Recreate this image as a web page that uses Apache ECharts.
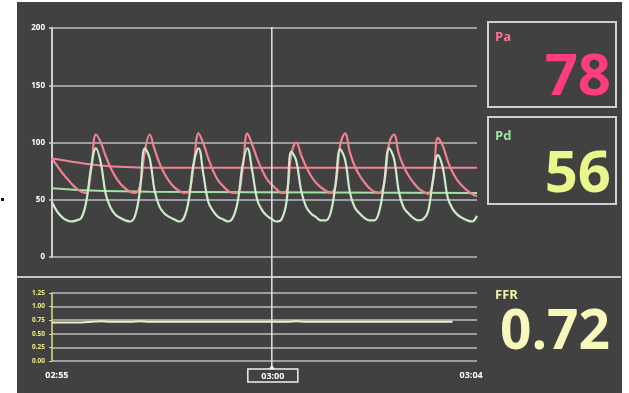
<!DOCTYPE html>
<html>
<head>
<meta charset="utf-8">
<script src="https://cdn.jsdelivr.net/npm/echarts@6/dist/echarts.min.js"></script>
<style>
  html, body { margin: 0; padding: 0; background: #ffffff; }
  #panel { position: absolute; left: 17px; top: 2px; width: 605px; height: 391px; background: #414141; }
  #chart { position: absolute; left: 0; top: 0; width: 629px; height: 393px; }
</style>
</head>
<body>
<div id="panel"></div>
<div id="chart"></div>
<script>
// Time base (seconds since start of pullback recording)
const viewStart = 175.5;
const viewEnd = 184.2;
const sampleStart = 175.5;
const sampleStep = 0.1;

// Aortic pressure (Pa), mmHg, one value per sample
const paWave = [
  86, 80, 74, 69, 64, 60, 57, 56, 76, 107,
  100, 88, 78, 70, 64, 60, 57, 56, 62, 92,
  107, 94, 82, 73, 66, 61, 58, 56, 57, 80,
  108, 99, 86, 75, 67, 62, 58, 56, 56, 76,
  108, 98, 86, 76, 68, 63, 59, 56, 57, 90,
  100, 89, 79, 71, 65, 61, 58, 56, 62, 98,
  108, 91, 79, 71, 65, 60, 57, 56, 64, 99,
  107, 90, 79, 71, 65, 60, 57, 55, 66, 104,
  97, 84, 74, 67, 62, 58, 55, 53
];

// Distal pressure (Pd), mmHg, one value per sample
const pdWave = [
  48, 40, 35, 32, 31, 32, 34, 48, 78, 95,
  82, 55, 43, 37, 34, 32, 31, 36, 58, 95,
  86, 58, 44, 38, 35, 33, 31, 34, 50, 82,
  95, 72, 48, 40, 35, 33, 31, 34, 48, 80,
  95, 75, 50, 41, 36, 33, 31, 33, 48, 92,
  84, 58, 44, 38, 35, 32, 32, 38, 62, 94,
  85, 56, 43, 38, 34, 32, 32, 40, 65, 95,
  86, 57, 43, 38, 34, 32, 33, 40, 68, 89,
  78, 52, 42, 37, 34, 32, 31, 36
];

// Running means (sample index -> mmHg)
const paMeanAt = [0, 3, 6, 10, 15, 20, 87];
const paMean = [86, 84, 82, 80, 78.5, 78, 78];
const pdMeanAt = [0, 8, 20, 87];
const pdMean = [60, 58, 57, 56];

// FFR trend
const ffrStart = 175.5;
const ffrStep = 0.2;
const ffrValues = [
  0.71, 0.71, 0.71, 0.71, 0.72, 0.73, 0.72, 0.72, 0.72, 0.73,
  0.72, 0.72, 0.72, 0.72, 0.72, 0.72, 0.72, 0.72, 0.72, 0.72,
  0.72, 0.72, 0.72, 0.72, 0.72, 0.73, 0.72, 0.72, 0.72, 0.72,
  0.72, 0.72, 0.72, 0.72, 0.72, 0.72, 0.72, 0.72, 0.72, 0.72,
  0.72, 0.72
];

// Axis label positions
const pressureLabelValues = [0, 50, 100, 150, 200];
const timeLabelAt = [175.6, 184.08];

// Cursor and readouts
const cursorTime = 180;
const paReadout = 78;
const pdReadout = 56;
const ffrReadout = 0.72;

const BG = '#414141';
const GRID = '#bdbdbd';
const FONT = '"Open Sans", "DejaVu Sans", sans-serif';

function clock(t) {
  const m = Math.floor(t / 60);
  const s = Math.floor(t % 60);
  return String(m).padStart(2, '0') + ':' + String(s).padStart(2, '0');
}
const wave = arr => arr.map((v, i) => [sampleStart + i * sampleStep, v]);
const sparse = (idx, vals) => idx.map((k, i) => [sampleStart + k * sampleStep, vals[i]]);

const chart = echarts.init(document.getElementById('chart'), null, { renderer: 'canvas' });

chart.setOption({
  backgroundColor: 'transparent',
  animation: false,
  grid: [
    { left: 52, top: 28, width: 425, height: 229 },
    { left: 52, top: 293, width: 425, height: 68 }
  ],
  xAxis: [
    { type: 'value', gridIndex: 0, min: viewStart, max: viewEnd, show: false },
    {
      type: 'value', gridIndex: 1, min: viewStart, max: viewEnd,
      axisLine: { show: false }, axisTick: { show: false }, splitLine: { show: false },
      axisLabel: {
        customValues: timeLabelAt,
        formatter: v => clock(v),
        color: '#ffffff', fontWeight: 'bold', fontSize: 9, fontFamily: FONT, margin: 10
      }
    }
  ],
  yAxis: [
    {
      type: 'value', gridIndex: 0, min: 0, max: 200, interval: 25,
      axisLine: { show: true, lineStyle: { color: '#cfcfcf', width: 2 } },
      axisTick: { show: true, customValues: pressureLabelValues, length: 3, lineStyle: { color: '#cfcfcf', width: 1.5 } },
      axisLabel: { customValues: pressureLabelValues, color: '#ffffff', fontWeight: 'bold', fontSize: 8, fontFamily: FONT, margin: 7 },
      splitLine: { show: true, lineStyle: { color: GRID, width: 1.5 } }
    },
    {
      type: 'value', gridIndex: 1, min: 0, max: 1.25, interval: 0.25,
      axisLine: { show: true, lineStyle: { color: '#dede8a', width: 1.5 } },
      axisTick: { show: true, length: 3, lineStyle: { color: '#dede8a', width: 1 } },
      axisLabel: { formatter: v => v.toFixed(2), color: '#ecec84', fontWeight: 'bold', fontSize: 6.5, fontFamily: FONT, margin: 7 },
      splitLine: { show: true, lineStyle: { color: GRID, width: 1.5 } }
    }
  ],
  series: [
    {
      name: 'Pa mean', type: 'line', xAxisIndex: 0, yAxisIndex: 0,
      data: sparse(paMeanAt, paMean), smooth: 0.4, symbol: 'none',
      lineStyle: { color: '#f08595', width: 2 }, z: 3
    },
    {
      name: 'Pd mean', type: 'line', xAxisIndex: 0, yAxisIndex: 0,
      data: sparse(pdMeanAt, pdMean), smooth: 0.4, symbol: 'none',
      lineStyle: { color: '#9fe3a4', width: 2 }, z: 3
    },
    {
      name: 'Pa', type: 'line', xAxisIndex: 0, yAxisIndex: 0,
      data: wave(paWave), smooth: 0.4, symbol: 'none',
      lineStyle: { color: '#ef8291', width: 2.2 }, z: 4
    },
    {
      name: 'Pd', type: 'line', xAxisIndex: 0, yAxisIndex: 0,
      data: wave(pdWave), smooth: 0.4, symbol: 'none',
      lineStyle: { color: '#cdebc9', width: 2.2 }, z: 5
    },
    {
      name: 'FFR', type: 'line', xAxisIndex: 1, yAxisIndex: 1,
      data: ffrValues.map((v, i) => [ffrStart + i * ffrStep, v]), smooth: 0.3, symbol: 'none',
      lineStyle: { color: '#f1f1c4', width: 2 }, z: 5
    }
  ]
});

// Cursor position taken from the lower time axis
const cx = chart.convertToPixel({ xAxisIndex: 1 }, cursorTime);

chart.setOption({
  graphic: [
    // divider between pressure and FFR panes
    { type: 'line', z: 1, shape: { x1: 17, y1: 277, x2: 621, y2: 277 }, style: { stroke: '#c4c4c4', lineWidth: 2 } },
    // cursor
    { type: 'line', z: 50, shape: { x1: cx, y1: 27, x2: cx, y2: 367 }, style: { stroke: '#e4e4e4', lineWidth: 1.5 } },
    { type: 'polygon', z: 51, shape: { points: [[cx - 3, 369], [cx, 365], [cx + 3, 369]] }, style: { fill: '#ffffff' } },
    { type: 'rect', z: 51, shape: { x: cx - 24, y: 369, width: 50, height: 13 }, style: { fill: BG, stroke: '#f0f0f0', lineWidth: 1.5 } },
    { type: 'text', z: 52, x: cx + 1, y: 376, style: { text: clock(cursorTime), fill: '#ffffff', font: 'bold 9px ' + FONT, align: 'center', verticalAlign: 'middle' } },
    // Pa readout
    { type: 'rect', shape: { x: 488, y: 22, width: 128, height: 85 }, style: { fill: 'none', stroke: '#cfcfcf', lineWidth: 2 } },
    { type: 'text', x: 495, y: 37, style: { text: 'Pa', fill: '#ff6f96', font: 'bold 13px ' + FONT, align: 'left', verticalAlign: 'middle' } },
    { type: 'text', x: 611, y: 78, style: { text: String(paReadout), fill: '#ff3d7c', font: 'bold 58px ' + FONT, align: 'right', verticalAlign: 'middle' } },
    // Pd readout
    { type: 'rect', shape: { x: 488, y: 117, width: 128, height: 87 }, style: { fill: 'none', stroke: '#cfcfcf', lineWidth: 2 } },
    { type: 'text', x: 495, y: 136, style: { text: 'Pd', fill: '#98e59a', font: 'bold 13px ' + FONT, align: 'left', verticalAlign: 'middle' } },
    { type: 'text', x: 611, y: 175, style: { text: String(pdReadout), fill: '#e9f78c', font: 'bold 58px ' + FONT, align: 'right', verticalAlign: 'middle' } },
    // FFR readout
    { type: 'text', x: 495, y: 295, style: { text: 'FFR', fill: '#f3f3a8', font: 'bold 13px ' + FONT, align: 'left', verticalAlign: 'middle' } },
    { type: 'text', x: 610, y: 333, style: { text: ffrReadout.toFixed(2), fill: '#f8f8bc', font: 'bold 55px ' + FONT, align: 'right', verticalAlign: 'middle' } },
    // margin mark
    { type: 'rect', shape: { x: 1, y: 198, width: 3, height: 3 }, style: { fill: '#111111' } }
  ]
});
</script>
</body>
</html>
